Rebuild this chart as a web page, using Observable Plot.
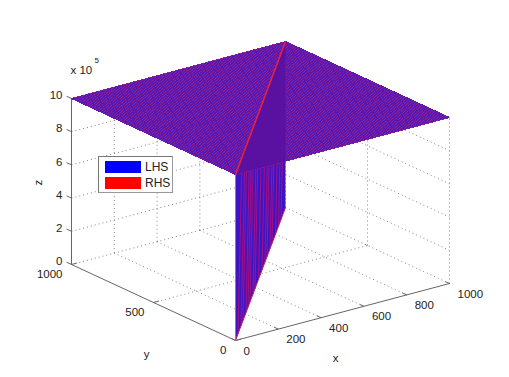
<!DOCTYPE html>
<html>
<head>
<meta charset="utf-8">
<script src="https://cdn.jsdelivr.net/npm/d3@7"></script>
<script src="https://cdn.jsdelivr.net/npm/@observablehq/plot@0.6"></script>
<style>
html,body{margin:0;padding:0;background:#fff;overflow:hidden}
#wrap{position:relative;width:509px;height:377px}
#legend{position:absolute;left:98px;top:156px;width:73px;height:35px;border:1px solid #777;border-right-color:#999;border-bottom-color:#999;background:#fff;font:12px "Liberation Sans",sans-serif;color:#222}
#legend i{position:absolute;left:6px;width:36px;height:12px}
#legend span{position:absolute;left:46px;line-height:14px}
</style>
</head>
<body>
<div id="wrap">
<div id="chart"></div>
<div id="legend">
  <i style="top:4px;background:#0000ff"></i><span style="top:3px">LHS</span>
  <i style="top:20px;background:#ff0000"></i><span style="top:19px">RHS</span>
</div>
</div>
<script>
// axis ticks
const xTicks = [0, 200, 400, 600, 800, 1000];
const yTicks = [0, 500, 1000];
const zTicks = [0, 2, 4, 6, 8, 10];
// surface corners: [x, y, z]
const topPlane = [[0,0,10],[1000,0,10],[1000,1000,10],[0,1000,10]];
const wall = [[0,0,0],[1000,1000,0],[1000,1000,10],[0,0,10]];
const wallUpper = [[0,0,10],[1000,1000,10],[234,0,10]];
const meshSites = d3.range(0, 1001, 10);
// red streaks seen on the wall, as positions along the diagonal
const wallStreaks = [90,150,190,250,290,330,390,430,500,570,630,670,730,770,840,900,950];
// view: screen offset per full axis
const xDir = [214, 57], yDir = [-164, 76], zDir = [0, 16.6];
const P = (x, y, z) => [x/1000*xDir[0] + y/1000*yDir[0], x/1000*xDir[1] + y/1000*yDir[1] + z*zDir[1]];

const seg = (a, b, extra = {}) => { const p = P(...a), q = P(...b); return {x1:p[0], y1:p[1], x2:q[0], y2:q[1], ...extra}; };
const links = (rows, o) => Plot.link(rows, {x1:"x1", y1:"y1", x2:"x2", y2:"y2", ...o});
const poly = (pts, fill) => Plot.line(pts.map(p => P(...p)), {x:d=>d[0], y:d=>d[1], fill, stroke:"none", curve:"linear-closed"});

const grid = [];
for (const x of xTicks) { if (x) { grid.push(seg([x,0,0],[x,1000,0])); grid.push(seg([x,1000,0],[x,1000,10])); } }
for (const y of yTicks) { if (y) { grid.push(seg([0,y,0],[1000,y,0])); } if (y < 1000) grid.push(seg([1000,y,0],[1000,y,10])); }
for (const z of zTicks) { if (z) { grid.push(seg([0,1000,z],[1000,1000,z])); grid.push(seg([1000,1000,z],[1000,0,z])); } }

const axes = [seg([0,0,0],[1000,0,0]), seg([0,0,0],[0,1000,0]), seg([0,1000,0],[0,1000,10])];
const ticks = [
  ...xTicks.map(x => seg([x,0,0],[x,25,0])),
  ...yTicks.map(y => seg([0,y,0],[25,y,0])),
  ...zTicks.map(z => seg([0,1000,z],[0,1030,z]))
];

const blueMesh = meshSites.map(s => seg([s,0,10],[s,1000,10]));
const redMesh = meshSites.map(s => seg([0,s,10],[1000,s,10]));
// streaks stay within the wall's diagonal extent
const wallRed = wallStreaks.map(s => seg([Math.max(0,s-40),Math.max(0,s-40),0],[Math.min(1000,s+40),Math.min(1000,s+40),10]));

const font = {fontFamily:"Liberation Sans", fontSize:11.5, fill:"#222", stroke:"none"};
const lab = (rows, o) => Plot.text(rows, {x:d=>P(...d.p)[0], y:d=>P(...d.p)[1], text:d=>d.t, ...font, ...o});

const chart = Plot.plot({
  width:509, height:377,
  marginTop:0, marginRight:0, marginBottom:0, marginLeft:0,
  x:{domain:[-235,274], range:[0,509], axis:null},
  y:{domain:[-37,340], range:[377,0], axis:null},
  style:{background:"#fff"},
  marks:[
    links(grid, {stroke:"#666", strokeWidth:0.8, strokeDasharray:"1 3"}),
    links(axes, {stroke:"#666", strokeWidth:1}),
    links(ticks, {stroke:"#666", strokeWidth:1}),
    poly(wall, "#3c14c4"),
    links(wallRed, {stroke:"#b8107a", strokeWidth:1.1, strokeOpacity:0.8}),
    poly(topPlane, "#6c1c9e"),
    links(redMesh, {stroke:"#94208e", strokeWidth:1, shapeRendering:"crispEdges"}),
    links(blueMesh, {stroke:"#5818b4", strokeWidth:1, shapeRendering:"crispEdges"}),
    poly(wallUpper, "#5a10a0"),
    links([seg([0,0,0],[1000,1000,0])], {stroke:"#c0186a", strokeWidth:1}),
    links([seg([0,0,0],[0,0,10])], {stroke:"#7878ff", strokeWidth:1}),
    links([seg([0,0,10],[1000,1000,10])], {stroke:"#e8203c", strokeWidth:1.6}),
    lab(xTicks.map(x => ({p:[x,0,0], t:String(x)})), {textAnchor:"start", dx:8, dy:10.5}),
    lab(yTicks.map(y => ({p:[0,y,0], t:String(y)})), {textAnchor:"end", dx:-9, dy:10}),
    lab(zTicks.map(z => ({p:[0,1000,z], t:String(z)})), {textAnchor:"end", dx:-9, dy:-3}),
    lab([{p:[500,0,0], t:"x"}], {dx:-7, dy:46}),
    lab([{p:[0,500,0], t:"y"}], {dx:-7, dy:52}),
    lab([{p:[0,1000,5], t:"z"}], {dx:-33, dy:1, rotate:-90}),
    lab([{p:[0,1000,10], t:"x 10"}], {textAnchor:"start", dx:-1, dy:-28}),
    lab([{p:[0,1000,10], t:"5"}], {textAnchor:"start", dx:23, dy:-38, fontSize:8})
  ]
});
document.getElementById("chart").appendChild(chart);
</script>
</body>
</html>
